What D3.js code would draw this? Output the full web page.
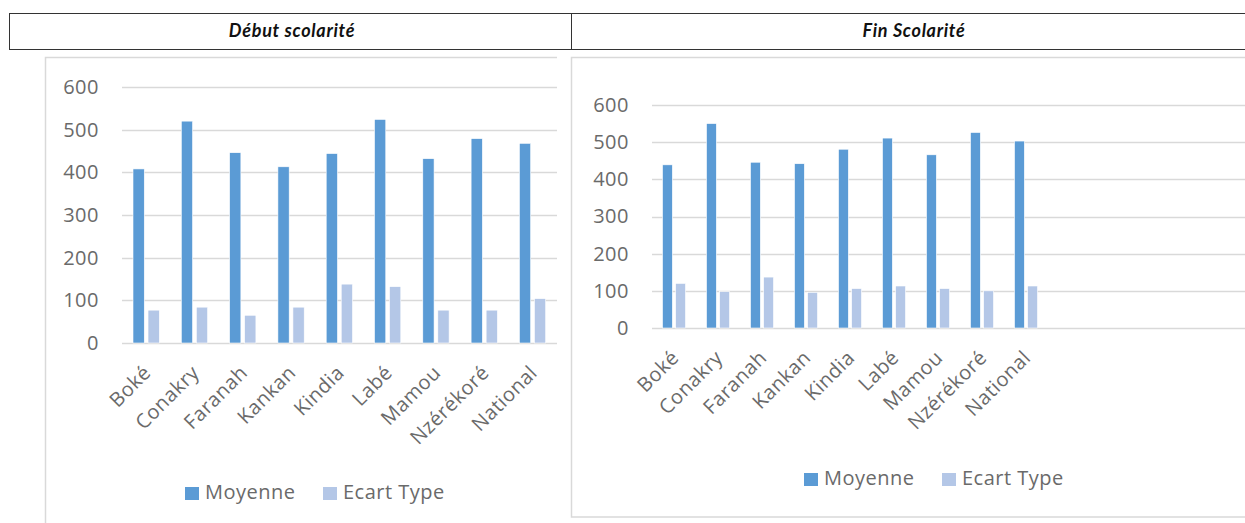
<!DOCTYPE html>
<html>
<head>
<meta charset="utf-8">
<script src="https://cdn.jsdelivr.net/npm/d3@7"></script>
<style>
  body { margin: 0; background: #fff; }
  text { font-family: 'Open Sans', sans-serif; }
</style>
</head>
<body>
<script>
const W = 1245
const H = 523

// data
const regions = ['Boké', 'Conakry', 'Faranah', 'Kankan', 'Kindia', 'Labé', 'Mamou', 'Nzérékoré', 'National']
const debutMoyenne = [408, 520, 446, 413, 444, 524, 432, 479, 468]
const debutEcart = [77, 84, 65, 84, 138, 132, 77, 77, 104]
const finMoyenne = [439, 550, 446, 442, 481, 511, 466, 526, 503]
const finEcart = [120, 98, 137, 96, 106, 113, 106, 100, 113]
const yTicks = [0, 100, 200, 300, 400, 500, 600]
const seriesNames = ['Moyenne', 'Ecart Type']
const panelTitles = ['Début scolarité', 'Fin Scolarité']

const colors = ['#5b9bd5', '#b4c7e7']
const textGray = '#6a6a6a'
const gridGray = '#d9d9d9'

const svg = d3.select('body')
    .append('svg')
    .attr('width', W)
    .attr('height', H)

// header table
const header = svg.append('g')
header.append('rect')
    .attr('x', 9.5).attr('y', 13.5)
    .attr('width', W + 10).attr('height', 36)
    .attr('fill', 'none')
    .attr('stroke', '#333')
header.append('line')
    .attr('x1', 571.5).attr('x2', 571.5)
    .attr('y1', 13.5).attr('y2', 49.5)
    .attr('stroke', '#333')

header.selectAll('text.title')
    .data(panelTitles)
    .enter()
    .append('text')
    .attr('class', 'title')
    .attr('x', function (d, i) { return i === 0 ? 292 : 914 })
    .attr('y', 37)
    .attr('text-anchor', 'middle')
    .style('font-family', 'Lato, sans-serif')
    .style('font-style', 'italic')
    .style('font-weight', 700)
    .style('font-size', '18px')
    .style('letter-spacing', '0.7px')
    .attr('fill', '#111')
    .text(function (d) { return d })

function buildChart (cfg) {
    const g = svg.append('g')

    // chart frame (the right side runs off the cropped picture)
    const b = cfg.box
    const framePath = d3.path()
    framePath.moveTo(b[0] + b[2], b[1] + 0.5)
    framePath.lineTo(b[0] + 0.5, b[1] + 0.5)
    framePath.lineTo(b[0] + 0.5, b[1] + b[3])
    if (cfg.bottomEdge) framePath.lineTo(b[0] + b[2], b[1] + b[3])
    g.append('path')
        .attr('d', framePath.toString())
        .attr('fill', 'none')
        .attr('stroke', gridGray)
        .attr('stroke-width', 1.5)

    const yScale = d3.scaleLinear()
        .domain([0, 600])
        .range([cfg.y0, cfg.y600])

    const xScale = d3.scaleBand()
        .domain(regions)
        .range([cfg.x0, cfg.x0 + cfg.step * regions.length])

    const inner = d3.scaleBand()
        .domain(seriesNames)
        .range([cfg.groupPad, cfg.step - cfg.groupPad])
        .paddingInner(0.25)

    // gridlines
    g.selectAll('line.grid')
        .data(yTicks)
        .enter()
        .append('line')
        .attr('class', 'grid')
        .attr('x1', cfg.x0)
        .attr('x2', cfg.gridEnd)
        .attr('y1', function (d) { return Math.round(yScale(d)) + 0.5 })
        .attr('y2', function (d) { return Math.round(yScale(d)) + 0.5 })
        .attr('stroke', gridGray)
        .attr('stroke-width', 1.5)

    // y axis labels
    const yAxis = g.append('g')
        .attr('transform', `translate(${cfg.yLabelX},0)`)
        .call(d3.axisLeft(yScale).tickValues(yTicks).tickSize(0).tickPadding(0))
    yAxis.select('.domain').remove()
    yAxis.selectAll('text')
        .style('font-family', "'Open Sans', sans-serif")
        .style('font-size', '20px')
        .style('letter-spacing', '0.5px')
        .attr('fill', textGray)

    // bars
    const series = [cfg.moyenne, cfg.ecart]
    series.forEach(function (vals, s) {
        g.selectAll('rect.s' + s)
            .data(vals)
            .enter()
            .append('rect')
            .attr('class', 's' + s)
            .attr('x', function (d, i) { return xScale(regions[i]) + inner(seriesNames[s]) })
            .attr('width', inner.bandwidth())
            .attr('y', function (d) { return yScale(d) })
            .attr('height', function (d) { return yScale(0) - yScale(d) })
            .attr('fill', colors[s])
            .attr('stroke', '#fff')
            .attr('stroke-width', 0.6)
    })

    // rotated category labels
    g.selectAll('text.cat')
        .data(regions)
        .enter()
        .append('text')
        .attr('class', 'cat')
        .attr('text-anchor', 'end')
        .attr('transform', function (d) {
            return `translate(${xScale(d) + xScale.bandwidth() / 2 + 6},${cfg.y0 + 31}) rotate(-45)`
        })
        .style('font-size', '20px')
        .style('letter-spacing', '0.5px')
        .attr('fill', textGray)
        .text(function (d) { return d })

    // legend
    const legend = g.append('g')
        .attr('transform', `translate(${cfg.legend[0]},${cfg.legend[1]})`)
    const item = legend.selectAll('g')
        .data(seriesNames)
        .enter()
        .append('g')
        .attr('transform', function (d, i) { return `translate(${i * 138},0)` })
    item.append('rect')
        .attr('width', 14).attr('height', 13)
        .attr('y', -12)
        .attr('fill', function (d, i) { return colors[i] })
    item.append('text')
        .attr('x', 20)
        .attr('y', 0)
        .style('font-size', '20px')
        .style('letter-spacing', '0.5px')
        .attr('fill', textGray)
        .text(function (d) { return d })
}

buildChart({
    box: [45, 57, 512, 480], bottomEdge: false,
    x0: 122, step: 48.3, groupPad: 11, gridEnd: 557,
    y0: 343, y600: 87, yLabelX: 99,
    moyenne: debutMoyenne, ecart: debutEcart,
    legend: [185, 499]
})

buildChart({
    box: [571, 57, 700, 460], bottomEdge: true,
    x0: 652, step: 44, groupPad: 10.5, gridEnd: W,
    y0: 328, y600: 105, yLabelX: 629,
    moyenne: finMoyenne, ecart: finEcart,
    legend: [804, 485]
})
</script>
</body>
</html>
